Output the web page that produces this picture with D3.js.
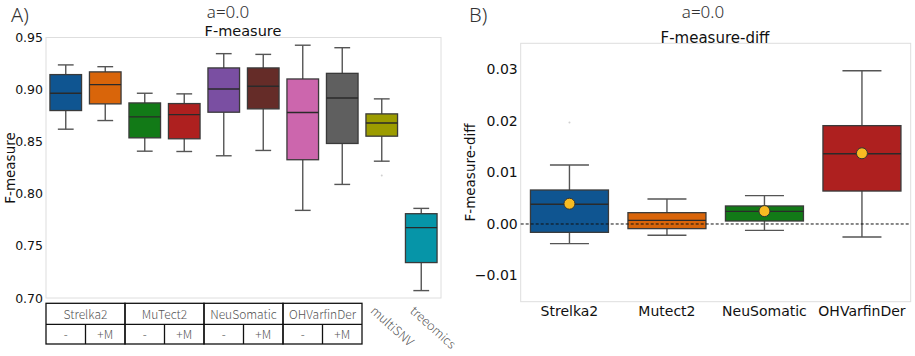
<!DOCTYPE html>
<html>
<head>
<meta charset="utf-8">
<script src="https://cdn.jsdelivr.net/npm/d3@7"></script>
<style>
  html, body { margin: 0; padding: 0; background: #fff; }
  svg { display: block; }
  .thin { font-family: "Noto Sans CJK JP", "Noto Sans", sans-serif; font-weight: 300; }
  .head { font-family: "Noto Sans", "Noto Sans CJK JP", sans-serif; font-weight: 300; }
  .dv { font-family: "DejaVu Sans", sans-serif; }
</style>
</head>
<body>
<svg id="chart" width="915" height="356"></svg>
<script>
// ---- Panel A: F-measure per caller ----
const categoriesA = ["Strelka2 -", "Strelka2 +M", "MuTect2 -", "MuTect2 +M",
  "NeuSomatic -", "NeuSomatic +M", "OHVarfinDer -", "OHVarfinDer +M", "multiSNV", "treeomics"];
const whiskerLowA  = [0.8620, 0.8703, 0.8409, 0.8406, 0.8365, 0.8416, 0.7841, 0.8090, 0.8313, 0.7071];
const q1A          = [0.8799, 0.8863, 0.8537, 0.8528, 0.8783, 0.8815, 0.8327, 0.8483, 0.8553, 0.7340];
const medianA      = [0.8965, 0.9048, 0.8738, 0.8760, 0.9006, 0.9032, 0.8780, 0.8920, 0.8680, 0.7675];
const q3A          = [0.9144, 0.9170, 0.8872, 0.8866, 0.9208, 0.9208, 0.9102, 0.9156, 0.8767, 0.7809];
const whiskerHighA = [0.9237, 0.9220, 0.8965, 0.8959, 0.9345, 0.9338, 0.9426, 0.9402, 0.8911, 0.7860];
const fliersA      = [[8, 0.8176]];
const colorsA = ["#0f5591", "#d9650a", "#127a17", "#ae201f", "#7a4fa2",
  "#652c28", "#cc66ad", "#5f5f5f", "#9c9c00", "#0695a8"];
const ticksA = [0.70, 0.75, 0.80, 0.85, 0.90, 0.95];
const groupsA = ["Strelka2", "MuTect2", "NeuSomatic", "OHVarfinDer"];
const subLabelsA = ["-", "+M"];
const rotatedLabelsA = ["multiSNV", "treeomics"];

// ---- Panel B: F-measure difference (+M minus -) ----
const categoriesB = ["Strelka2", "Mutect2", "NeuSomatic", "OHVarfinDer"];
const whiskerLowB  = [-0.00382, -0.00220, -0.00123, -0.00252];
const q1B          = [-0.00162, -0.00090, 0.00058, 0.00640];
const medianB      = [0.00382, 0.00071, 0.00246, 0.01365];
const q3B          = [0.00660, 0.00220, 0.00350, 0.01910];
const whiskerHighB = [0.01146, 0.00485, 0.00550, 0.02977];
const meanB        = [0.00394, null, 0.00250, 0.01373];
const fliersB      = [[0, 0.0197]];
const colorsB = ["#0f5591", "#d9650a", "#127a17", "#ae201f"];
const ticksB = [-0.01, 0.00, 0.01, 0.02, 0.03];

const svg = d3.select("#chart");

function drawBoxes(g, cats, x, y, lo, q1, med, q3, hi, colors, boxFrac) {
  const bw = x.bandwidth() * boxFrac;
  cats.forEach((c, i) => {
    const cx = x(c) + x.bandwidth() / 2;
    const grp = g.append("g");
    // whiskers
    grp.append("line").attr("x1", cx).attr("x2", cx)
      .attr("y1", y(q3[i])).attr("y2", y(hi[i]))
      .attr("stroke", "#555").attr("stroke-width", 1.4);
    grp.append("line").attr("x1", cx).attr("x2", cx)
      .attr("y1", y(q1[i])).attr("y2", y(lo[i]))
      .attr("stroke", "#555").attr("stroke-width", 1.4);
    // caps
    [hi[i], lo[i]].forEach(v => {
      grp.append("line").attr("x1", cx - bw / 4).attr("x2", cx + bw / 4)
        .attr("y1", y(v)).attr("y2", y(v))
        .attr("stroke", "#555").attr("stroke-width", 1.4);
    });
    // box
    grp.append("rect").attr("x", cx - bw / 2).attr("width", bw)
      .attr("y", y(q3[i])).attr("height", y(q1[i]) - y(q3[i]))
      .attr("fill", colors[i]).attr("stroke", "#3a3a3a").attr("stroke-width", 1.3);
    // median
    grp.append("line").attr("x1", cx - bw / 2).attr("x2", cx + bw / 2)
      .attr("y1", y(med[i])).attr("y2", y(med[i]))
      .attr("stroke", "#2a2a2a").attr("stroke-width", 1.4);
  });
}

// ================= Panel A =================
const xA = d3.scaleBand().domain(categoriesA).range([46, 441]);
const yA = d3.scaleLinear().domain([0.70, 0.95]).range([298, 37.5]);
const gA = svg.append("g");

gA.append("rect").attr("x", 46).attr("y", 37.5).attr("width", 395).attr("height", 260.5)
  .attr("fill", "none").attr("stroke", "#dedede").attr("stroke-width", 1);

const axA = gA.append("g").attr("transform", "translate(46,0)")
  .call(d3.axisLeft(yA).tickValues(ticksA).tickFormat(d3.format(".2f")).tickSize(0).tickPadding(3));
axA.select(".domain").remove();
axA.selectAll("text").style("font-family", "DejaVu Sans").attr("font-size", 12.5).attr("fill", "#111");

drawBoxes(gA, categoriesA, xA, yA, whiskerLowA, q1A, medianA, q3A, whiskerHighA, colorsA, 0.8);

fliersA.forEach(([i, v]) => {
  gA.append("circle").attr("cx", xA(categoriesA[i]) + xA.bandwidth() / 2).attr("cy", yA(v))
    .attr("r", 1).attr("fill", "#d0d0d0");
});

gA.append("text").attr("class", "dv").attr("x", 243).attr("y", 35.5).attr("fill", "#111")
  .attr("text-anchor", "middle").attr("font-size", 14.5).text("F-measure");
gA.append("text").attr("class", "dv").attr("transform", "translate(15,168) rotate(-90)").attr("fill", "#111")
  .attr("text-anchor", "middle").attr("font-size", 13.5).text("F-measure");
gA.append("text").attr("class", "head").attr("x", 228).attr("y", 18.4).attr("fill", "#333")
  .attr("text-anchor", "middle").attr("font-size", 17).text("a=0.0");
gA.append("text").attr("class", "head").attr("x", 11).attr("y", 21.6).attr("fill", "#333")
  .attr("font-size", 20).text("A)");

// category table under panel A
const tableTop = 303.3, rowMid = 324.3, tableBottom = 344;
const tbl = gA.append("g");
groupsA.forEach((name, gi) => {
  const c0 = categoriesA[gi * 2], c1 = categoriesA[gi * 2 + 1];
  const left = xA(c0), mid = xA(c1), right = xA(c1) + xA.bandwidth();
  tbl.append("rect").attr("x", left).attr("y", tableTop).attr("width", right - left)
    .attr("height", tableBottom - tableTop).attr("fill", "none").attr("stroke", "#111").attr("stroke-width", 1.3);
  tbl.append("line").attr("x1", left).attr("x2", right).attr("y1", rowMid).attr("y2", rowMid)
    .attr("stroke", "#111").attr("stroke-width", 1.3);
  tbl.append("line").attr("x1", mid).attr("x2", mid).attr("y1", rowMid).attr("y2", tableBottom)
    .attr("stroke", "#111").attr("stroke-width", 1.3);
  tbl.append("text").attr("class", "thin").attr("x", (left + right) / 2).attr("y", 318.5)
    .attr("text-anchor", "middle").attr("font-size", 12).attr("fill", "#555").text(name);
  [c0, c1].forEach((c, k) => {
    tbl.append("text").attr("class", "thin").attr("x", xA(c) + xA.bandwidth() / 2).attr("y", 338.5)
      .attr("text-anchor", "middle").attr("font-size", 12).attr("fill", "#555").text(subLabelsA[k]);
  });
});
rotatedLabelsA.forEach(name => {
  const cx = xA(name) + xA.bandwidth() / 2;
  gA.append("text").attr("class", "thin")
    .attr("transform", `translate(${cx - 12},312) rotate(42)`)
    .attr("font-size", 12.5).attr("fill", "#555").text(name);
});

// ================= Panel B =================
const xB = d3.scaleBand().domain(categoriesB).range([520.7, 910.7]);
const yB = d3.scaleLinear().domain([-0.01509, 0.03509]).range([301.7, 43.3]);
const gB = svg.append("g");

gB.append("rect").attr("x", 520.7).attr("y", 43.3).attr("width", 390).attr("height", 258.4)
  .attr("fill", "none").attr("stroke", "#dedede").attr("stroke-width", 1);

const ayB = gB.append("g").attr("transform", "translate(520.7,0)")
  .call(d3.axisLeft(yB).tickValues(ticksB).tickFormat(d3.format(".2f")).tickSize(0).tickPadding(3));
ayB.select(".domain").remove();
ayB.selectAll("text").style("font-family", "DejaVu Sans").attr("font-size", 14).attr("fill", "#111");

const axB = gB.append("g").attr("transform", "translate(0,301.7)")
  .call(d3.axisBottom(xB).tickSize(0).tickPadding(4));
axB.select(".domain").remove();
axB.selectAll("text").style("font-family", "DejaVu Sans").attr("font-size", 14).attr("fill", "#111");

drawBoxes(gB, categoriesB, xB, yB, whiskerLowB, q1B, medianB, q3B, whiskerHighB, colorsB, 0.8);

// dashed zero reference line, drawn over the boxes
gB.append("line").attr("x1", 520.7).attr("x2", 910.7).attr("y1", yB(0)).attr("y2", yB(0))
  .attr("stroke", "#111").attr("stroke-width", 1).attr("stroke-dasharray", "3,2");

fliersB.forEach(([i, v]) => {
  gB.append("circle").attr("cx", xB(categoriesB[i]) + xB.bandwidth() / 2).attr("cy", yB(v))
    .attr("r", 1).attr("fill", "#d0d0d0");
});

meanB.forEach((m, i) => {
  if (m === null) return;
  gB.append("circle").attr("cx", xB(categoriesB[i]) + xB.bandwidth() / 2).attr("cy", yB(m))
    .attr("r", 5.5).attr("fill", "#f8bb22").attr("stroke", "#333").attr("stroke-width", 1);
});

gB.append("text").attr("class", "dv").attr("x", 715).attr("y", 42.5).attr("fill", "#111")
  .attr("text-anchor", "middle").attr("font-size", 15).text("F-measure-diff");
gB.append("text").attr("class", "dv").attr("transform", "translate(475,172.5) rotate(-90)").attr("fill", "#111")
  .attr("text-anchor", "middle").attr("font-size", 13.5).text("F-measure-diff");
gB.append("text").attr("class", "head").attr("x", 703).attr("y", 18.4).attr("fill", "#333")
  .attr("text-anchor", "middle").attr("font-size", 17).text("a=0.0");
gB.append("text").attr("class", "head").attr("x", 469).attr("y", 21.6).attr("fill", "#333")
  .attr("font-size", 20).text("B)");
</script>
</body>
</html>
